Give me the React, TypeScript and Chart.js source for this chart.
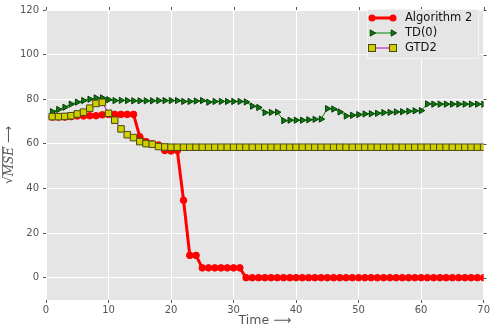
import React, { useEffect, useRef } from 'react';
import { Chart, registerables } from 'chart.js';

Chart.register(...registerables);

const TIME = [1, 2, 3, 4, 5, 6, 7, 8, 9, 10, 11, 12, 13, 14, 15, 16, 17, 18, 19, 20,
  21, 22, 23, 24, 25, 26, 27, 28, 29, 30, 31, 32, 33, 34, 35, 36, 37, 38, 39, 40,
  41, 42, 43, 44, 45, 46, 47, 48, 49, 50, 51, 52, 53, 54, 55, 56, 57, 58, 59, 60,
  61, 62, 63, 64, 65, 66, 67, 68, 69, 70];

const ALGORITHM2 = [72, 72, 72, 72.2, 72.5, 72.5, 72.6, 72.6, 73, 73.2,
  73.2, 73.2, 73.2, 73.2, 63.2, 61, 60, 59.5, 57, 56.8,
  57, 34.7, 10, 10, 4.4, 4.4, 4.4, 4.4, 4.4, 4.4,
  4.4, 0, 0, 0, 0, 0, 0, 0, 0, 0,
  0, 0, 0, 0, 0, 0, 0, 0, 0, 0,
  0, 0, 0, 0, 0, 0, 0, 0, 0, 0,
  0, 0, 0, 0, 0, 0, 0, 0, 0, 0];

const TD0 = [74.4, 75.4, 76.4, 77.8, 78.7, 79.4, 80, 80.6, 80.6, 79.8,
  79.4, 79.5, 79.4, 79.3, 79.3, 79.3, 79.3, 79.4, 79.4, 79.4,
  79.4, 79, 79, 79.2, 79.4, 78.7, 79, 79, 79, 79,
  79, 78.8, 76.9, 76.3, 74, 74.1, 74.2, 70.4, 70.6, 70.6,
  70.6, 70.8, 71, 71.1, 75.8, 75.6, 74.3, 72.5, 72.8, 73.1,
  73.4, 73.5, 73.7, 74, 74.1, 74.3, 74.4, 74.6, 74.8, 74.9,
  77.9, 77.8, 77.8, 77.8, 77.8, 77.8, 77.8, 77.8, 77.8, 77.8];

const GTD2 = [72.2, 72.2, 72.3, 72.6, 73.4, 74.2, 76, 78.1, 78.6, 73.7,
  70.6, 66.7, 64.1, 62.8, 61, 60.1, 59.8, 58.8, 58.6, 58.5,
  58.5, 58.5, 58.5, 58.5, 58.5, 58.5, 58.5, 58.5, 58.5, 58.5,
  58.5, 58.5, 58.5, 58.5, 58.5, 58.5, 58.5, 58.5, 58.5, 58.5,
  58.5, 58.5, 58.5, 58.5, 58.5, 58.5, 58.5, 58.5, 58.5, 58.5,
  58.5, 58.5, 58.5, 58.5, 58.5, 58.5, 58.5, 58.5, 58.5, 58.5,
  58.5, 58.5, 58.5, 58.5, 58.5, 58.5, 58.5, 58.5, 58.5, 58.5];

const SERIES_NAMES = ['Algorithm 2', 'TD(0)', 'GTD2'];
const Y_TICKS = [0, 20, 40, 60, 80, 100, 120];
const X_TICKS = [0, 10, 20, 30, 40, 50, 60, 70];

const RED = '#ff0000';
const GREEN_LINE = '#008000';
const GREEN_FILL = '#0a7a0a';
const GREEN_EDGE = '#063d06';
const MAGENTA = '#c000c0';
const YELLOW = '#d0d000';
const YELLOW_EDGE = '#4a4a10';
const TICK_COLOR = '#555555';

function toPoints(values: number[]) {
  return TIME.map((t, i) => ({ x: t, y: values[i] }));
}

function drawTri(ctx: CanvasRenderingContext2D, x: number, y: number, r: number) {
  ctx.beginPath();
  ctx.moveTo(x + r, y);
  ctx.lineTo(x - r / 2, y - r * 0.866);
  ctx.lineTo(x - r / 2, y + r * 0.866);
  ctx.closePath();
  ctx.fillStyle = GREEN_FILL;
  ctx.fill();
  ctx.strokeStyle = GREEN_EDGE;
  ctx.lineWidth = 1;
  ctx.stroke();
}

const decorPlugin = {
  id: 'decor',
  beforeDraw(chart: any) {
    const { ctx, chartArea: a } = chart;
    ctx.save();
    ctx.fillStyle = '#ffffff';
    ctx.fillRect(0, 0, chart.width, chart.height);
    ctx.fillStyle = '#e5e5e5';
    ctx.fillRect(a.left, a.top, a.right - a.left, a.bottom - a.top);
    ctx.restore();
  },
  afterDraw(chart: any) {
    const { ctx, chartArea: a, scales } = chart;
    ctx.save();
    ctx.strokeStyle = TICK_COLOR;
    ctx.lineWidth = 1;
    Y_TICKS.forEach((v) => {
      const y = Math.round(scales.y.getPixelForValue(v)) + 0.5;
      ctx.beginPath();
      ctx.moveTo(a.right, y);
      ctx.lineTo(a.right + 3, y);
      ctx.stroke();
    });
    X_TICKS.forEach((v) => {
      const x = Math.round(scales.x.getPixelForValue(v)) + 0.5;
      ctx.beginPath();
      ctx.moveTo(x, a.top);
      ctx.lineTo(x, a.top - 3);
      ctx.stroke();
    });

    // legend
    const lx = 367, ly = 9, lw = 111, lh = 49;
    ctx.fillStyle = '#e5e5e5';
    ctx.fillRect(lx, ly, lw, lh);
    ctx.strokeStyle = '#f4f4f4';
    ctx.lineWidth = 1;
    ctx.strokeRect(lx + 0.5, ly + 0.5, lw, lh);
    const rows = [18, 33, 48];
    const x1 = 372, x2 = 393;
    ctx.strokeStyle = RED;
    ctx.lineWidth = 3;
    ctx.beginPath();
    ctx.moveTo(x1, rows[0]);
    ctx.lineTo(x2, rows[0]);
    ctx.stroke();
    ctx.fillStyle = RED;
    [x1, x2].forEach((x) => {
      ctx.beginPath();
      ctx.arc(x, rows[0], 3.5, 0, Math.PI * 2);
      ctx.fill();
    });
    ctx.strokeStyle = GREEN_LINE;
    ctx.lineWidth = 1;
    ctx.beginPath();
    ctx.moveTo(x1, rows[1]);
    ctx.lineTo(x2, rows[1]);
    ctx.stroke();
    [x1, x2].forEach((x) => drawTri(ctx, x, rows[1], 3.6));
    ctx.strokeStyle = MAGENTA;
    ctx.lineWidth = 1;
    ctx.beginPath();
    ctx.moveTo(x1, rows[2]);
    ctx.lineTo(x2, rows[2]);
    ctx.stroke();
    [x1, x2].forEach((x) => {
      ctx.fillStyle = YELLOW;
      ctx.fillRect(x - 3.5, rows[2] - 3.5, 7, 7);
      ctx.strokeStyle = YELLOW_EDGE;
      ctx.strokeRect(x - 3.5, rows[2] - 3.5, 7, 7);
    });
    ctx.fillStyle = '#111111';
    ctx.font = '11.5px "DejaVu Sans"';
    ctx.textBaseline = 'middle';
    ctx.textAlign = 'left';
    SERIES_NAMES.forEach((name, i) => ctx.fillText(name, 405, rows[i] + 0.5));

    // x axis title
    ctx.fillStyle = TICK_COLOR;
    ctx.font = '12.5px "DejaVu Sans"';
    ctx.textAlign = 'center';
    ctx.textBaseline = 'middle';
    ctx.fillText('Time \u27f6', (a.left + a.right) / 2, 321);

    // y axis title: sqrt(MSE) -->
    ctx.translate(9, (a.top + a.bottom) / 2);
    ctx.rotate(-Math.PI / 2);
    const rootFont = '12px "DejaVu Sans"';
    const mseFont = 'italic 12px "DejaVu Serif"';
    const arrowFont = '12px "DejaVu Sans"';
    ctx.font = rootFont;
    const wRoot = ctx.measureText('\u221a').width;
    ctx.font = mseFont;
    const wMse = ctx.measureText('MSE').width;
    ctx.font = arrowFont;
    const wArrow = ctx.measureText(' \u27f6').width;
    const total = wRoot + wMse + wArrow;
    let cx = -total / 2;
    ctx.textAlign = 'left';
    ctx.textBaseline = 'middle';
    ctx.fillStyle = TICK_COLOR;
    ctx.font = rootFont;
    ctx.fillText('\u221a', cx, 0);
    cx += wRoot;
    ctx.font = mseFont;
    ctx.fillText('MSE', cx, 0.5);
    ctx.strokeStyle = TICK_COLOR;
    ctx.lineWidth = 0.8;
    ctx.beginPath();
    ctx.moveTo(cx - 1, -6.5);
    ctx.lineTo(cx + wMse + 1, -6.5);
    ctx.stroke();
    cx += wMse;
    ctx.font = arrowFont;
    ctx.fillText(' \u27f6', cx, 0);
    ctx.restore();
  },
};

export default function App() {
  const canvasRef = useRef<HTMLCanvasElement | null>(null);

  useEffect(() => {
    document.body.style.margin = '0';
    const canvas = canvasRef.current;
    if (!canvas) return;
    const tickFont = { family: '"DejaVu Sans"', size: 10 };
    const chart = new Chart(canvas, {
      type: 'line',
      data: {
        datasets: [
          {
            label: SERIES_NAMES[0],
            data: toPoints(ALGORITHM2),
            borderColor: RED,
            borderWidth: 3,
            backgroundColor: RED,
            pointBackgroundColor: RED,
            pointBorderColor: RED,
            pointBorderWidth: 1,
            pointRadius: 3.3,
            pointStyle: 'circle',
            tension: 0,
            clip: 0,
            order: 3,
          },
          {
            label: SERIES_NAMES[1],
            data: toPoints(TD0),
            borderColor: GREEN_LINE,
            borderWidth: 1,
            backgroundColor: GREEN_FILL,
            pointBackgroundColor: GREEN_FILL,
            pointBorderColor: GREEN_EDGE,
            pointBorderWidth: 1,
            pointRadius: 3.6,
            pointStyle: 'triangle',
            pointRotation: 90,
            tension: 0,
            clip: 0,
            order: 2,
          },
          {
            label: SERIES_NAMES[2],
            data: toPoints(GTD2),
            borderColor: MAGENTA,
            borderWidth: 1,
            backgroundColor: YELLOW,
            pointBackgroundColor: YELLOW,
            pointBorderColor: YELLOW_EDGE,
            pointBorderWidth: 1,
            pointRadius: 4.6,
            pointStyle: 'rect',
            tension: 0,
            clip: 0,
            order: 1,
          },
        ],
      },
      options: {
        animation: false,
        responsive: false,
        maintainAspectRatio: false,
        events: [],
        layout: { padding: { left: 0, right: 7, top: 5, bottom: 0 } },
        plugins: {
          legend: { display: false },
          tooltip: { enabled: false },
          title: { display: false },
        },
        scales: {
          x: {
            type: 'linear',
            min: 0,
            max: 70,
            ticks: { stepSize: 10, color: TICK_COLOR, font: tickFont, padding: 1, maxRotation: 0 },
            grid: { color: '#ffffff', lineWidth: 1, tickColor: TICK_COLOR, tickLength: 3 },
            border: { display: false },
            afterFit: (s: any) => {
              s.height = 27;
            },
          },
          y: {
            type: 'linear',
            min: -10,
            max: 120,
            afterBuildTicks: (s: any) => {
              s.ticks = Y_TICKS.map((v) => ({ value: v }));
            },
            ticks: { color: TICK_COLOR, font: tickFont, padding: 4 },
            grid: { color: '#ffffff', lineWidth: 1, tickColor: TICK_COLOR, tickLength: 3 },
            border: { display: false },
            afterFit: (s: any) => {
              s.width = 46;
            },
          },
        },
      },
      plugins: [decorPlugin],
    } as any);
    return () => chart.destroy();
  }, []);

  return (
    <div style={{ width: 491, height: 327, position: 'relative' }}>
      <canvas ref={canvasRef} width={491} height={327} style={{ display: 'block' }} />
    </div>
  );
}
